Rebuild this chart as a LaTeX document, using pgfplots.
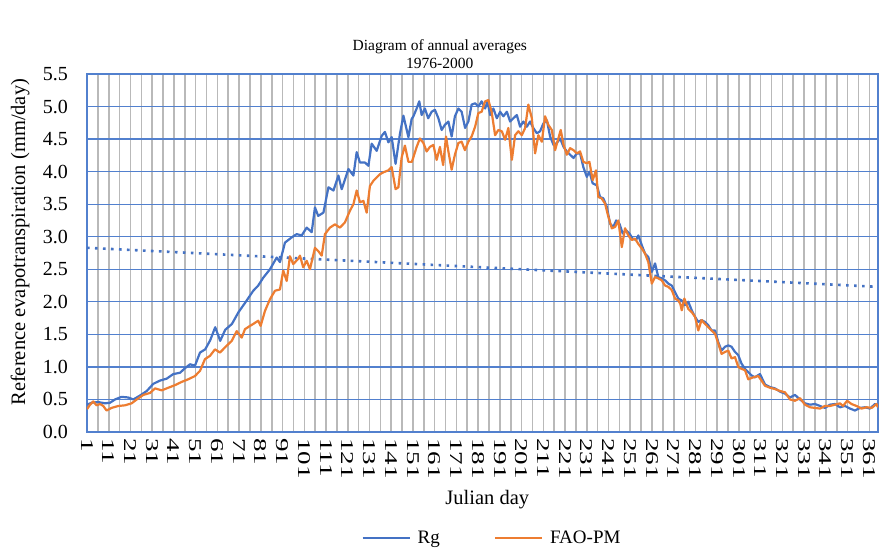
\documentclass[border=0pt]{standalone}
\usepackage{fontspec}
\setmainfont{Liberation Serif}
\newfontfamily\tickfont[FakeStretch=1.5]{Liberation Serif}
\usepackage{pgfplots}
\pgfplotsset{compat=1.18}
\definecolor{rgblue}{RGB}{68,114,196}
\definecolor{faoorange}{RGB}{237,125,49}
\definecolor{gridgray}{RGB}{185,185,185}
\definecolor{gridblue}{RGB}{82,128,206}
\begin{document}
\begin{tikzpicture}
\path[use as bounding box] (-87pt,-116pt) rectangle (793pt,432pt);
\begin{axis}[
  at={(0pt,0pt)}, anchor=south west,
  width=791pt, height=358pt, scale only axis,
  xmin=1, xmax=365, ymin=0, ymax=5.5,
  xtick={1,11,...,361},
  minor xtick={6,16,...,356},
  ytick={0,0.5,1,1.5,2,2.5,3,3.5,4,4.5,5,5.5},
  extra y ticks={0.5,1,1.5,2,2.5,3,3.5,4,4.5,5},
  extra y tick labels={},
  extra y tick style={grid=major, major grid style={draw=gridblue, line width=1.3pt}},
  major tick length=0pt, minor tick length=0pt,
  xmajorgrids, xminorgrids,
  major x grid style={draw=gridgray, line width=1.6pt},
  minor x grid style={draw=gridgray, line width=1.6pt},
  axis line style={draw=gridblue, line width=1.3pt},
  yticklabel style={font=\fontsize{20}{20}\selectfont, inner sep=0pt, anchor=east,
    /pgf/number format/.cd, fixed, fixed zerofill, precision=1, assume math mode=true},
  yticklabel shift=19pt,
  xticklabel style={rotate=-90, anchor=west, inner sep=0pt, font=\tickfont\fontsize{18}{18}\selectfont,
    /pgf/number format/assume math mode=true},
  xticklabel shift=6pt,
  title={Diagram of annual averages\\1976-2000},
  title style={at={(0.446,1)}, anchor=south, align=center, inner sep=0pt, yshift=-1pt,
    font=\fontsize{15.5}{18}\selectfont},
  xlabel={Julian day},
  xlabel style={at={(axis description cs:0.506,-0.19)}, anchor=center, font=\fontsize{20.5}{20.5}\selectfont},
  ylabel={Reference evapotranspiration (mm/day)},
  ylabel style={at={(axis description cs:-0.0847,0.53)}, anchor=center, font=\fontsize{20.5}{20.5}\selectfont},
  legend style={at={(0.512,-0.297)}, anchor=center, draw=none, fill=none,
    legend columns=2, font=\fontsize{19}{19}\selectfont,
    /tikz/every even column/.append style={column sep=52pt}},
  legend image code/.code={\draw[#1] (0pt,0pt) -- (47pt,0pt); \path (52pt,0pt);},
]
% linear trend (dotted)
\addplot[rgblue, line width=2.6pt, dash pattern=on 2.6pt off 5.4pt, forget plot]
  coordinates {(1,2.83) (365,2.23)};
% Rg
\addplot[rgblue, line width=2.2pt, line join=round] coordinates {
(1,0.42) (3.2,0.45) (6.2,0.46) (9.3,0.44) (11.6,0.45) (13.9,0.50) (16.9,0.54) (20,0.53) (22.3,0.50) (25.4,0.56) (28.5,0.63) (31.5,0.74) (34.6,0.79) (37.7,0.82) (40.7,0.89) (43.8,0.91) (46.1,0.98) (48.4,1.04) (50.7,1.02) (53,1.22) (55.4,1.27) (57.7,1.41) (60,1.61) (62.3,1.40) (64.6,1.57) (67.7,1.66) (70.7,1.84)
(74.5,2.02) (77.5,2.17) (79.8,2.25) (82.1,2.37) (85.2,2.50) (88.3,2.68) (89.8,2.61) (92.1,2.91) (95.2,2.99) (97.5,3.04) (99.8,3.02) (102.1,3.14) (104.4,3.07) (105.9,3.45) (107.4,3.32) (109.8,3.37) (112.1,3.76) (114.4,3.71) (116.7,3.94) (118.2,3.73) (121.3,4.04) (123.6,3.94) (125.1,4.30) (126.6,4.14) (128.9,4.14) (130.5,4.09) (132.0,4.43) (134.3,4.32) (136.6,4.55) (138.1,4.61) (139.7,4.45) (141.2,4.53) (143.0,4.12) (145.0,4.58) (146.6,4.86) (148.9,4.53)
(150.4,4.81) (151.2,4.85) (152.7,4.97) (153.9,5.08) (155.0,4.87) (156.5,4.97) (158.0,4.82) (159.6,4.92) (161.1,4.95) (162.7,4.82) (164.2,4.64) (165.7,4.72) (167.3,4.77) (168.8,4.54) (170.3,4.85) (171.9,4.97) (173.4,4.92) (175.0,4.67) (176.5,4.77) (178.0,5.03) (179.6,5.05) (181.1,5.00) (182.6,5.08) (184.2,4.97) (185.3,5.08) (186.5,4.87) (188.0,4.97) (189.6,4.82) (191.1,4.92) (192.6,4.85) (194.2,4.92) (195.7,4.77) (197.2,4.82) (198.8,4.87) (200.3,4.69) (201.8,4.77) (203.4,4.69) (204.9,4.77) (206.4,4.67) (208.0,4.59) (209.5,4.62) (211.0,4.74) (212.6,4.79) (214.1,4.54) (215.7,4.41) (217.2,4.44) (218.7,4.51) (220.3,4.38) (221.8,4.31) (223.3,4.26) (224.9,4.21) (226.4,4.28)
(227.9,4.28) (229.4,4.07) (231.0,3.92) (232.2,4.00) (233.7,3.82) (235.6,3.79) (237.1,3.61) (238.6,3.59) (240.2,3.46) (241.7,3.20) (243.2,3.15) (244.5,3.25) (246.0,3.20) (247.5,3.05) (249.1,3.10) (250.6,3.05) (252.1,2.97) (253.7,2.95) (254.7,3.02) (256.3,2.87) (257.8,2.74) (259.3,2.69) (260.9,2.46) (262.4,2.59) (263.9,2.38) (265.5,2.36) (267.0,2.33) (268.5,2.28) (270.1,2.25) (271.6,2.15) (273.1,2.05) (274.7,2.02) (276.2,1.95) (277.7,2.00) (279.3,1.87) (280.8,1.77) (282.3,1.69) (283.8,1.72) (285.4,1.69) (286.9,1.64) (288.4,1.56) (290.0,1.56) (291.5,1.38) (293.0,1.25) (294.6,1.31) (296.1,1.33) (297.6,1.31) (299.2,1.23) (300.7,1.18) (302.2,1.05)
(303.8,0.97) (305.3,0.92) (306.8,0.87) (308.3,0.84) (310.7,0.89) (313.0,0.73) (315.3,0.69) (317.6,0.67) (319.9,0.62) (322.2,0.59) (324.5,0.53) (326.8,0.57) (329.1,0.50) (331.4,0.44) (333.7,0.42) (336.0,0.43) (338.3,0.40) (340.6,0.37) (342.9,0.42) (345.2,0.43) (347.5,0.38) (349.8,0.40) (352.1,0.36) (354.4,0.33) (356.7,0.37) (359.0,0.38) (361.3,0.36) (363.6,0.43) (365,0.40)
};
\addlegendentry{Rg}
% FAO-PM
\addplot[faoorange, line width=2.2pt, line join=round] coordinates {
(1,0.35) (2.4,0.42) (3.9,0.47) (5.4,0.41) (7.0,0.43) (8.5,0.40) (10.0,0.33) (12.3,0.37) (15.4,0.40) (18.5,0.41) (21.5,0.44) (23.9,0.50) (26.9,0.57) (30.0,0.60) (32.3,0.67) (35.4,0.64) (38.4,0.68) (41.5,0.72) (44.6,0.77) (47.6,0.81) (50.7,0.86) (53.0,0.94) (55.3,1.12) (57.6,1.17) (59.9,1.27) (62.2,1.22) (64.5,1.30) (67.6,1.40) (69.9,1.55) (72.2,1.45)
(73.7,1.58) (76.0,1.63) (77.5,1.66) (79.8,1.71) (80.9,1.63) (82.9,1.86) (85.2,2.04) (87.5,2.17) (89.8,2.19) (91.3,2.48) (92.9,2.32) (94.4,2.70) (95.9,2.58) (98.2,2.66) (99.0,2.71) (100.5,2.53) (102.1,2.63) (103.6,2.50) (105.9,2.83) (107.4,2.78) (109.0,2.71) (110.5,3.04) (112.8,3.14) (115.1,3.19) (117.4,3.14) (119.7,3.22) (122.0,3.40) (123.6,3.50) (125.1,3.71) (126.6,3.53) (128.2,3.55) (129.7,3.37) (131.2,3.78) (132.8,3.86) (134.3,3.91) (135.8,3.96) (137.4,3.99) (139.7,4.02) (141.2,4.07) (143.0,3.73) (144.3,3.76) (145.8,4.22) (147.3,4.40) (148.9,4.15)
(150.5,4.15) (152.7,4.38) (154.2,4.51) (155.8,4.44) (157.3,4.31) (158.8,4.38) (160.4,4.41) (161.9,4.18) (163.4,4.38) (164.9,4.10) (166.2,4.54) (167.3,4.31) (168.8,4.03) (170.3,4.26) (171.9,4.44) (173.4,4.46) (174.9,4.33) (176.5,4.46) (178.0,4.54) (179.6,4.69) (181.1,4.90) (182.6,4.92) (184.2,5.08) (185.7,5.10) (187.2,4.92) (188.8,4.56) (190.3,4.64) (191.9,4.62) (193.4,4.49) (194.9,4.67) (196.5,4.18) (198.0,4.56) (199.5,4.62) (201.1,4.56) (202.6,4.67) (204.1,5.03) (205.7,4.82) (207.2,4.28) (208.7,4.56) (210.3,4.46) (211.8,4.85) (213.3,4.72) (214.9,4.64) (216.4,4.33) (217.9,4.51) (219.0,4.64) (220.3,4.41) (221.8,4.26) (223.3,4.36) (224.9,4.33) (226.4,4.28)
(227.9,4.31) (229.4,4.15) (231.0,4.13) (232.2,4.15) (233.7,3.87) (235.2,4.02) (236.3,3.61) (237.8,3.59) (239.4,3.51) (240.9,3.31) (242.5,3.13) (244.0,3.15) (245.5,3.25) (247.1,2.84) (248.6,3.13) (250.1,3.02) (251.7,2.95) (253.2,2.97) (254.7,2.89) (256.3,2.82) (257.8,2.74) (259.3,2.61) (260.9,2.28) (262.4,2.38) (263.9,2.36) (265.5,2.33) (267.0,2.25) (268.5,2.23) (270.1,2.18) (271.6,2.05) (273.1,2.02) (274.0,1.97) (274.7,1.87) (275.9,2.05) (277.7,1.89) (279.3,1.84) (280.8,1.77) (282.3,1.56) (283.8,1.72) (285.4,1.66) (286.9,1.61) (288.4,1.56) (290.0,1.51) (291.5,1.36) (293.0,1.20) (294.6,1.23) (296.1,1.25) (297.6,1.13) (299.2,1.15) (300.7,1.00) (302.2,0.97) (303.8,0.95)
(305.3,0.81) (307.6,0.84) (309.9,0.86) (311.4,0.79) (313.0,0.71) (315.3,0.68) (317.6,0.66) (319.9,0.63) (322.2,0.61) (324.5,0.50) (326.8,0.48) (329.1,0.52) (331.4,0.42) (333.7,0.38) (336.0,0.37) (338.3,0.36) (340.6,0.40) (342.9,0.40) (345.2,0.42) (347.5,0.44) (348.9,0.40) (350.8,0.48) (352.8,0.43) (355.1,0.40) (357.4,0.36) (359.8,0.38) (362.1,0.37) (364.3,0.43) (365,0.38)
};
\addlegendentry{FAO-PM}
\end{axis}
\end{tikzpicture}
\end{document}
